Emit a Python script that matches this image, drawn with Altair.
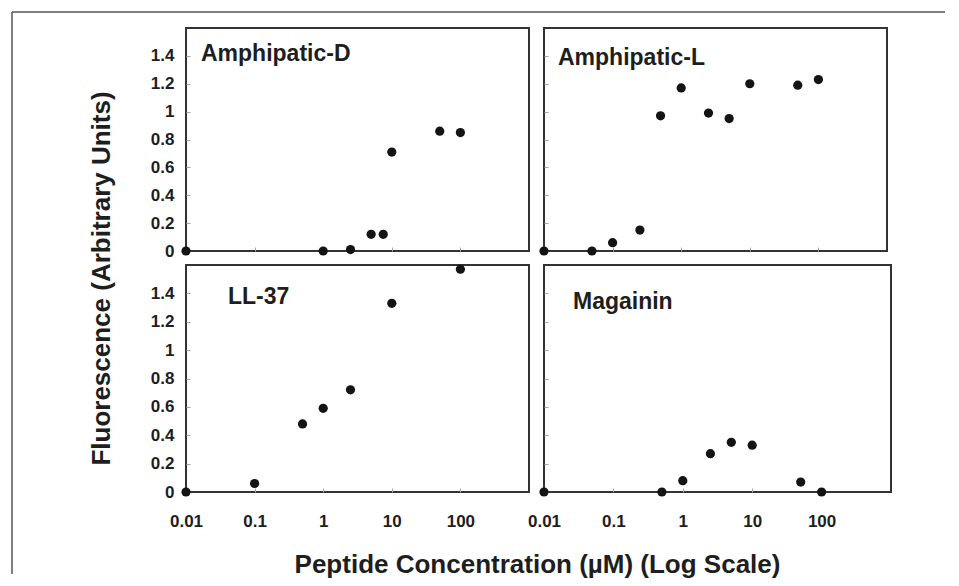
import altair as alt
import pandas as pd

# ---- data ----
panel_names = ["Amphipatic-D", "Amphipatic-L", "LL-37", "Magainin"]

ad_conc = [0.01, 1, 2.5, 5, 7.5, 10, 50, 100]
ad_fluor = [0.0, 0.0, 0.01, 0.12, 0.12, 0.71, 0.86, 0.85]

al_conc = [0.01, 0.05, 0.1, 0.25, 0.5, 1, 2.5, 5, 10, 50, 100]
al_fluor = [0.0, 0.0, 0.06, 0.15, 0.97, 1.17, 0.99, 0.95, 1.20, 1.19, 1.23]

ll_conc = [0.01, 0.1, 0.5, 1, 2.5, 10, 100]
ll_fluor = [0.0, 0.06, 0.48, 0.59, 0.72, 1.33, 1.57]

mg_conc = [0.01, 0.5, 1, 2.5, 5, 10, 50, 100]
mg_fluor = [0.0, 0.0, 0.08, 0.27, 0.35, 0.33, 0.07, 0.0]

x_ticks = [0.01, 0.1, 1, 10, 100]
y_ticks = [0, 0.2, 0.4, 0.6, 0.8, 1, 1.2, 1.4]

x_title = "Peptide Concentration (µM) (Log Scale)"
y_title = "Fluorescence (Arbitrary Units)"

# ---- styling ----
FONT = "Liberation Sans"
INK = "#141414"
TICK = "#a8a8a8"
W_L, W_R = 343, 347
H_TOP, H_BOT = 223, 227


def x_axis(labels, title=None):
    kw = dict(
        values=x_ticks, format="~g", labels=labels, offset=-4, tickSize=4,
        tickColor=TICK, tickWidth=1, domain=False, grid=False,
        labelFont=FONT, labelFontSize=17, labelFontWeight="bold",
        labelColor="#1e1e1e", labelPadding=21, labelFlush=False,
    )
    if title:
        kw.update(
            title=title, titleFont=FONT, titleFontSize=26, titleFontWeight="bold",
            titleColor="#1e1e1e", titleX=351, titleY=84, titleAlign="center",
            titleBaseline="alphabetic",
        )
    else:
        kw.update(title=None)
    return alt.Axis(**kw)


def y_axis(labels, title=None):
    kw = dict(
        values=y_ticks, format="~g", labels=labels, offset=-4, tickSize=4,
        tickColor=TICK, tickWidth=1, domain=False, grid=False,
        labelFont=FONT, labelFontSize=17, labelFontWeight="bold",
        labelColor="#1e1e1e", labelPadding=12, labelFlush=False,
    )
    if title:
        kw.update(
            title=title, titleFont=FONT, titleFontSize=26, titleFontWeight="bold",
            titleColor="#1e1e1e", titleX=-89, titleY=13, titleAlign="center",
            titleBaseline="middle", titleAngle=270,
        )
    else:
        kw.update(title=None)
    return alt.Axis(**kw)


def panel(name, xs, ys, w, h, xa, ya, lx, ly, extra=()):
    df = pd.DataFrame({"conc": xs, "fluor": ys})
    pts = alt.Chart(df).mark_circle(size=85, color=INK, opacity=1).encode(
        x=alt.X("conc:Q", scale=alt.Scale(type="log", domain=[0.01, 1000]), axis=xa),
        y=alt.Y("fluor:Q", scale=alt.Scale(domain=[0, 1.6]), axis=ya),
    )
    lab = alt.Chart(alt.Data(values=[{"t": name}])).mark_text(
        font=FONT, fontSize=23, fontWeight="bold", color="#1e1e1e",
        align="left", baseline="alphabetic",
    ).encode(x=alt.value(lx), y=alt.value(ly), text="t:N")
    return alt.layer(pts, lab, *extra).properties(width=w, height=h)


# outer figure frame (top and left edges), drawn relative to first panel
frame_data = alt.Data(values=[{"f": 1}])
frame_top = alt.Chart(frame_data).mark_rule(color="#555555", strokeWidth=1.5).encode(
    x=alt.value(-174), x2=alt.value(759), y=alt.value(-16)
)
frame_left = alt.Chart(frame_data).mark_rule(color="#555555", strokeWidth=1.5).encode(
    x=alt.value(-174), y=alt.value(-16), y2=alt.value(546)
)

tl = panel(panel_names[0], ad_conc, ad_fluor, W_L, H_TOP,
           x_axis(False), y_axis(True), 15, 33, extra=(frame_top, frame_left))
tr = panel(panel_names[1], al_conc, al_fluor, W_L, H_TOP,
           x_axis(False), y_axis(False), 14, 37)
bl = panel(panel_names[2], ll_conc, ll_fluor, W_L, H_BOT,
           x_axis(True, x_title), y_axis(True, y_title), 42, 39)
br = panel(panel_names[3], mg_conc, mg_fluor, W_R, H_BOT,
           x_axis(True), y_axis(False), 29, 44)

chart = alt.concat(
    tl, tr, bl, br, columns=2,
    spacing={"row": 14, "column": 15}, bounds="flush",
).properties(
    padding={"left": 2, "top": 2, "right": 0, "bottom": 0},
    background="white",
).configure_view(
    stroke="#333333", strokeWidth=2
)

chart.save("out.html", embed_options={"renderer": "svg", "actions": False})
